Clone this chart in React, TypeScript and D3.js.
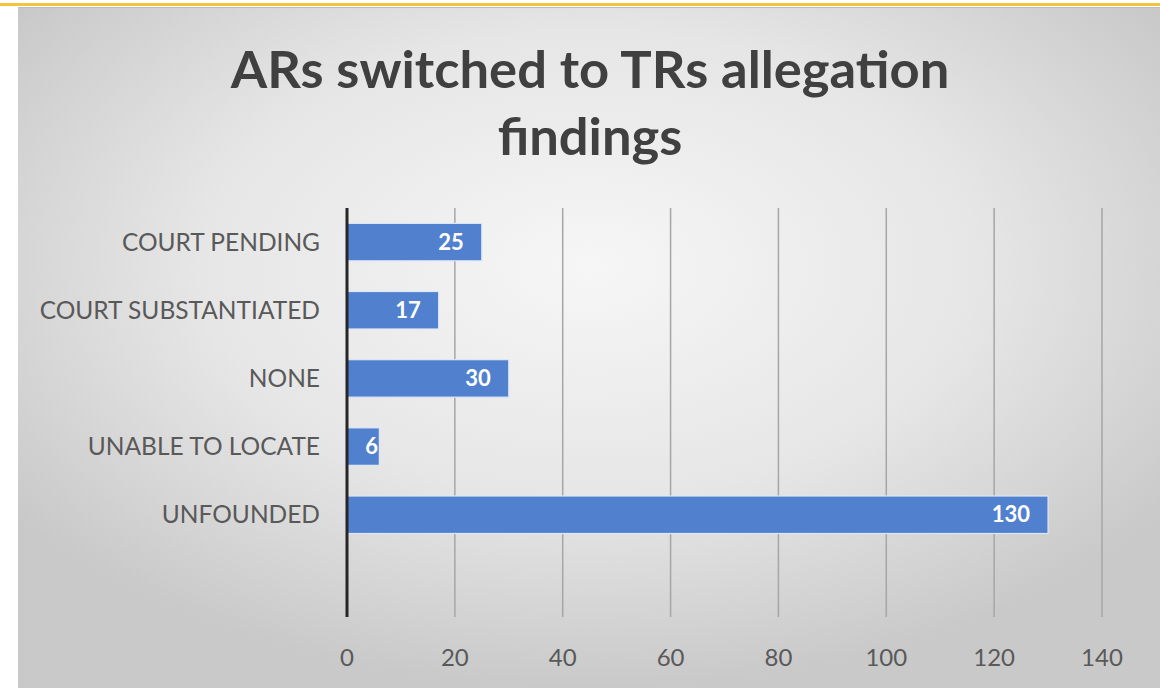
import React from "react";
import * as d3 from "d3";

const categories = ["COURT PENDING", "COURT SUBSTANTIATED", "NONE", "UNABLE TO LOCATE", "UNFOUNDED", ""];
const values = [25, 17, 30, 6, 130, null];
const xTicks = [0, 20, 40, 60, 80, 100, 120, 140];
const titleLines = ["ARs switched to TRs allegation", "findings"];

export default function App() {
  const W = 1160, H = 688;
  const plot = { left: 347, right: 1102, top: 208, bottom: 617 };
  const x = d3.scaleLinear().domain([0, 140]).range([plot.left, plot.right]);
  const y = d3.scaleBand<string>().domain(categories.map((c, i) => String(i))).range([plot.top, plot.bottom]).paddingInner(0.45).paddingOuter(0.225);
  const font = "Lato, 'Open Sans', sans-serif";
  return (
    <svg width={W} height={H} style={{ position: "absolute", left: 0, top: 0, display: "block" }}>
      <defs>
        <radialGradient id="bg" cx="50%" cy="38%" r="62%">
          <stop offset="0%" stopColor="#f6f6f6" />
          <stop offset="55%" stopColor="#e6e6e6" />
          <stop offset="100%" stopColor="#c9c9c9" />
        </radialGradient>
      </defs>
      <rect x={0} y={0} width={W} height={H} fill="#ffffff" />
      <rect x={18} y={7} width={W - 18} height={H - 7} fill="url(#bg)" />
      <line x1={18} x2={W} y1={7.5} y2={7.5} stroke="#b9bdc6" strokeWidth={1} />
      <line x1={0} x2={W} y1={4.5} y2={4.5} stroke="#f7c33c" strokeWidth={3} />
      {titleLines.map((t, i) => (
        <text key={i} x={590} y={88 + i * 67} textAnchor="middle" fontFamily={font} fontWeight={700} fontSize={52.5} fill="#404040">{t}</text>
      ))}
      {xTicks.map((t) => (
        <g key={t}>
          {t !== 0 && <line x1={x(t)} x2={x(t)} y1={plot.top} y2={plot.bottom} stroke="#a6a6a6" strokeWidth={1.5} />}
          <text x={x(t)} y={666} textAnchor="middle" fontFamily={font} fontSize={24} fill="#595959">{t}</text>
        </g>
      ))}
      {categories.map((c, i) => {
        const v = values[i];
        const yy = y(String(i))!;
        const bh = y.bandwidth();
        return (
          <g key={i}>
            {c && <text x={320} y={yy + bh / 2 + 8.5} textAnchor="end" fontFamily={font} fontSize={24.5} fill="#595959">{c}</text>}
            {v != null && (
              <>
                <rect x={x(0)} y={yy} width={x(v) - x(0)} height={bh} fill="#5181ce" stroke="#dfe8f6" strokeWidth={1.2} />
                <text x={Math.max(x(v) - 18, x(0) + 31)} y={yy + bh / 2 + 7.5} textAnchor="end" fontFamily={font} fontWeight={700} fontSize={22} fill="#ffffff">{v}</text>
              </>
            )}
          </g>
        );
      })}
      <line x1={x(0)} x2={x(0)} y1={plot.top} y2={plot.bottom} stroke="#262626" strokeWidth={3} />
    </svg>
  );
}
